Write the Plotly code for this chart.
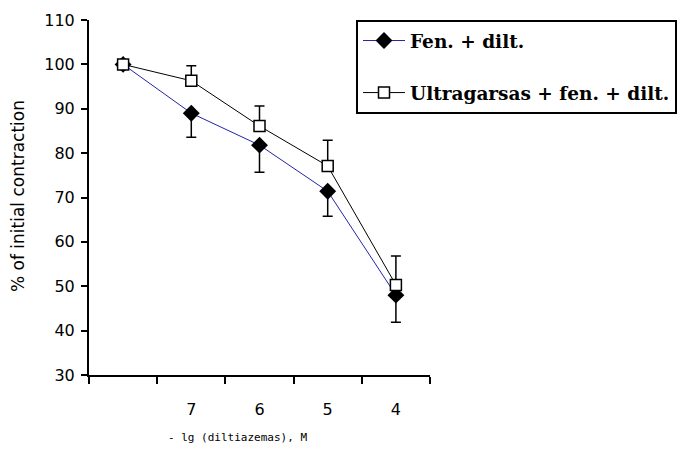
import plotly.graph_objects as go

x_labels = ["", "7", "6", "5", "4"]
x_pos = [0, 1, 2, 3, 4]
fen_dilt = [100, 89.0, 81.8, 71.4, 48.0]
fen_dilt_err_minus = [0, 5.4, 6.1, 5.6, 6.1]
ultra_fen_dilt = [100, 96.3, 86.1, 77.1, 50.3]
ultra_fen_dilt_err_plus = [0, 3.4, 4.5, 5.8, 6.5]
y_ticks = [30, 40, 50, 60, 70, 80, 90, 100, 110]

W, H = 681, 449
L, T, PW, PH = 89, 20, 341, 355

fig = go.Figure()
fig.add_trace(go.Scatter(
    x=x_pos, y=fen_dilt, name="Fen. + dilt.", mode="lines+markers",
    legendgroup="a",
    line=dict(color="#2424A8", width=1),
    marker=dict(symbol="diamond", size=13, color="black", line=dict(width=0)),
    error_y=dict(type="data", symmetric=False, array=[0]*5, arrayminus=fen_dilt_err_minus,
                 color="black", thickness=1.5, width=5),
))
fig.add_trace(go.Scatter(
    x=x_pos, y=ultra_fen_dilt, name="Ultragarsas + fen. + dilt.", mode="lines+markers",
    legendgroup="b",
    line=dict(color="black", width=1),
    marker=dict(symbol="square", size=11, color="white", line=dict(width=1.5, color="black")),
    error_y=dict(type="data", symmetric=False, array=ultra_fen_dilt_err_plus, arrayminus=[0]*5,
                 color="black", thickness=1.5, width=5),
))

fig.update_layout(
    width=W, height=H,
    margin=dict(l=L, r=W - L - PW, t=T, b=H - T - PH, pad=0, autoexpand=False),
    paper_bgcolor="white", plot_bgcolor="white",
    font=dict(family="DejaVu Sans", size=16, color="black"),
    showlegend=True,
    legend=dict(
        x=(356 - L) / PW, y=1.0, xanchor="left", yanchor="top", xref="paper", yref="paper",
        bgcolor="white", bordercolor="black", borderwidth=2,
        font=dict(family="DejaVu Serif", size=18.5, color="black", weight="bold"),
        traceorder="grouped", tracegroupgap=25, itemwidth=42,
    ),
    xaxis=dict(
        range=[-0.5, 4.5], tickmode="array", tickvals=x_pos, ticktext=x_labels,
        ticks="outside", ticklen=19, tickcolor="rgba(0,0,0,0)",
        showline=True, linecolor="black", linewidth=2, showgrid=False, zeroline=False,
        minor=dict(tickmode="array", tickvals=[-0.5, 0.5, 1.5, 2.5, 3.5, 4.5],
                   ticks="outside", ticklen=7, tickcolor="black", tickwidth=1.5, showgrid=False),
        tickfont=dict(size=16, family="DejaVu Sans"),
    ),
    yaxis=dict(
        range=[30, 110], tickmode="array", tickvals=y_ticks,
        ticks="outside", ticklen=6, tickwidth=1.5, tickcolor="black",
        showline=True, linecolor="black", linewidth=2, showgrid=False, zeroline=False,
        tickfont=dict(size=16, family="DejaVu Sans"), ticklabelstandoff=3,
    ),
    annotations=[
        dict(text="% of initial contraction", xref="paper", yref="paper",
             x=(18 - L) / PW, y=(375 - 196) / PH, textangle=-90, showarrow=False,
             xanchor="center", yanchor="middle",
             font=dict(size=17, family="DejaVu Sans")),
        dict(text="- lg (diltiazemas), M", xref="paper", yref="paper",
             x=(237 - L) / PW, y=-(437 - (T + PH)) / PH, showarrow=False,
             xanchor="center", yanchor="middle",
             font=dict(size=11, family="DejaVu Sans Mono, Liberation Mono")),
    ],
)

fig.write_html("out.html", config={"displayModeBar": False},
               post_script="document.body.style.margin='0';")
